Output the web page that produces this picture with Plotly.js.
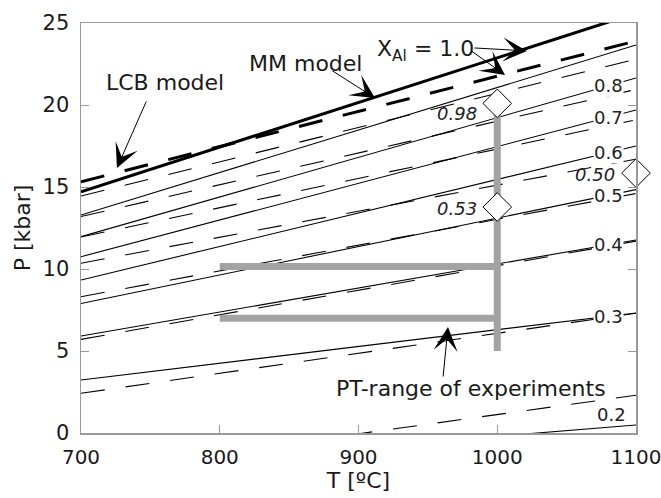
<!DOCTYPE html>
<html>
<head>
<meta charset="utf-8">
<script src="https://cdn.plot.ly/plotly-3.0.1.min.js"></script>
<style>html,body{margin:0;padding:0;background:#fff;}#chart{width:661px;height:498px;}</style>
</head>
<body>
<div id="chart"></div>
<script>
// ---- data ----
const T_ENDS = [700, 1100];                       // temperature [°C] of line end points
const X_AL = ['1.0','0.9','0.8','0.7','0.6','0.5','0.4','0.3','0.2'];
// MM model (solid) pressures [kbar] at 700 and 1100 °C
const MM_P700  = [14.71, 13.29, 11.97, 10.75, 9.33, 7.90, 5.91, 3.23, -2.27];
const MM_P1100 = [25.60, 23.66, 21.65, 19.70, 17.50, 14.84, 11.77, 7.32, 0.49];
// LCB model (dashed) pressures [kbar] at 700 and 1100 °C
const LCB_P700  = [15.32, 14.45, 13.20, 11.95, 10.35, 8.31, 5.71, 2.42, -2.40];
const LCB_P1100 = [23.90, 22.80, 20.95, 19.10, 16.70, 14.60, 11.70, 7.30, 2.30];
// experiments
const EXP_T = [1000, 1000, 1100];
const EXP_P = [20.1, 13.78, 15.85];
const EXP_LABEL = ['0.98', '0.53', '0.50'];
// PT-range of experiments
const RANGE_VT = [1000, 1000];
const RANGE_VP = [5.0, 20.1];
const RANGE_HT = [800, 1000];
const RANGE_HP = [10.15, 6.99];
// tick labels
const X_TICKS = [700, 800, 900, 1000, 1100];
const Y_TICKS = [0, 5, 10, 15, 20, 25];
const LABEL_T = 1080;

const FONT = 'DejaVu Sans, Arial, sans-serif';
const traces = [];
function interp(i, arrA, arrB, t) {
  return arrA[i] + (arrB[i] - arrA[i]) * (t - T_ENDS[0]) / (T_ENDS[1] - T_ENDS[0]);
}
X_AL.forEach((x, i) => {
  traces.push({x: T_ENDS, y: [MM_P700[i], MM_P1100[i]], mode: 'lines', hoverinfo: 'skip',
    line: {color: '#000', width: i === 0 ? 3 : 1.1}});
});
X_AL.forEach((x, i) => {
  traces.push({x: T_ENDS, y: [LCB_P700[i], LCB_P1100[i]], mode: 'lines', hoverinfo: 'skip',
    line: {color: '#000', width: i === 0 ? 3 : 1.1, dash: '24px,21px'}});
});
traces.push({x: RANGE_VT, y: RANGE_VP, mode: 'lines', line: {color: '#a3a3a3', width: 7}, hoverinfo: 'skip'});
RANGE_HP.forEach(p => {
  traces.push({x: RANGE_HT, y: [p, p], mode: 'lines', line: {color: '#a3a3a3', width: 7}, hoverinfo: 'skip'});
});
traces.push({x: EXP_T, y: EXP_P, mode: 'markers', cliponaxis: false, hoverinfo: 'skip',
  marker: {symbol: 'diamond', size: 22, color: '#fff', line: {color: '#000', width: 1}}});

const ann = [];
// contour labels on MM lines
for (let i = 2; i <= 7; i++) {
  ann.push({x: LABEL_T, y: interp(i, MM_P700, MM_P1100, LABEL_T), text: X_AL[i], showarrow: false,
    bgcolor: '#fff', borderpad: 0, font: {size: 18, family: FONT, color: '#222'}});
}
ann.push({x: 1082, y: 1.1, text: X_AL[8], showarrow: false, font: {size: 18, family: FONT, color: '#222'}});
// experiment labels (yshift: positive = up)
const EXP_SHIFT = [[-40, -10], [-40, -1], [-41, -1]];
EXP_T.forEach((t, i) => {
  ann.push({x: t, y: EXP_P[i], text: '<i>' + EXP_LABEL[i] + '</i>', showarrow: false,
    xshift: EXP_SHIFT[i][0], yshift: EXP_SHIFT[i][1], font: {size: 18, family: FONT, color: '#222'}});
});
// text annotations
const TXT = {size: 22, family: FONT, color: '#1a1a1a'};
ann.push({x: 760.5, y: 21.4, text: 'LCB model', showarrow: false, font: TXT});
ann.push({x: 862, y: 22.56, text: 'MM model', showarrow: false, font: TXT});
ann.push({x: 948, y: 23.3, text: 'X<sub>Al</sub> = 1.0', showarrow: false, font: TXT});
ann.push({x: 981, y: 2.74, text: 'PT-range of experiments', showarrow: false, font: TXT});
// arrows
const ARW = {showarrow: true, arrowhead: 3, arrowsize: 4, arrowwidth: 1, arrowcolor: '#000', text: '', standoff: 0};
ann.push(Object.assign({x: 725.9, y: 16.16, ax: 30, ay: -68}, ARW));
ann.push(Object.assign({x: 911.9, y: 20.43, ax: -44, ay: -28}, ARW));
ann.push(Object.assign({x: 1021.4, y: 23.3, ax: -54, ay: -3}, ARW));
ann.push(Object.assign({x: 1005.6, y: 21.83, ax: -35, ay: -25}, ARW));
ann.push(Object.assign({x: 964.5, y: 6.46, ax: -5, ay: 51}, ARW));

const layout = {
  width: 661, height: 498,
  margin: {l: 81, r: 25, t: 23, b: 65},
  paper_bgcolor: '#fff', plot_bgcolor: '#fff',
  showlegend: false,
  font: {family: FONT, size: 21, color: '#1a1a1a'},
  xaxis: {range: [700, 1100], tickvals: X_TICKS, ticktext: X_TICKS.map(String), ticks: 'inside', ticklen: 8,
    tickcolor: '#999', showline: true, linecolor: '#999', linewidth: 1.5, mirror: true,
    showgrid: false, zeroline: false, tickfont: {size: 20}, ticklabelstandoff: 5, ticklabeloverflow: 'allow',
    title: {text: 'T [ºC]', font: {size: 22}, standoff: 2}},
  yaxis: {range: [0, 25], tickvals: Y_TICKS, ticktext: Y_TICKS.map(String), ticks: 'inside', ticklen: 8,
    tickcolor: '#999', showline: true, linecolor: '#999', linewidth: 1.5, mirror: 'ticks',
    showgrid: false, zeroline: false, tickfont: {size: 21}, ticklabelstandoff: 6,
    title: {text: 'P [kbar]', font: {size: 22}, standoff: 6}},
  annotations: ann
};
Plotly.newPlot('chart', traces, layout, {staticPlot: true, displayModeBar: false});
</script>
</body>
</html>
